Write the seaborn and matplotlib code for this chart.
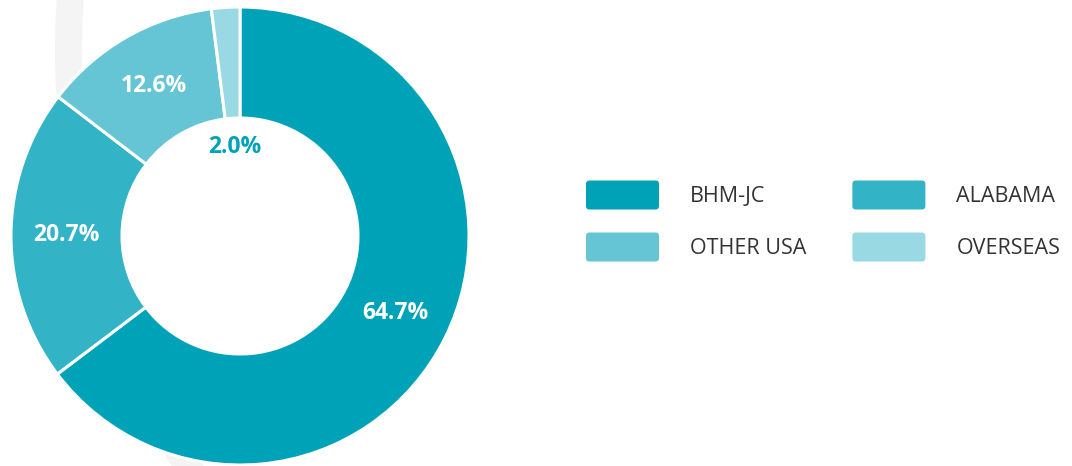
import matplotlib
matplotlib.use("Agg")
import matplotlib.pyplot as plt
import seaborn as sns
import numpy as np
from matplotlib.patches import Wedge, FancyBboxPatch
from matplotlib.legend_handler import HandlerPatch

categories = ["BHM-JC", "ALABAMA", "OTHER USA", "OVERSEAS"]
values = [64.7, 20.7, 12.6, 2.0]
colors = ["#00a2b8", "#33b3c6", "#66c5d4", "#99d9e3"]
# legend fills column by column: row 1 = BHM-JC, ALABAMA; row 2 = OTHER USA, OVERSEAS
legend_order = ["BHM-JC", "OTHER USA", "ALABAMA", "OVERSEAS"]

sns.set_theme(style="white")
plt.rcParams["font.family"] = ["Open Sans", "DejaVu Sans"]

W, H = 1072, 466
fig = plt.figure(figsize=(W / 100, H / 100), dpi=100)
fig.patch.set_facecolor("white")

# faint decorative background ring
bg = fig.add_axes([0, 0, 1, 1])
bg.set_xlim(0, W)
bg.set_ylim(H, 0)
bg.axis("off")
bg.add_patch(Wedge((855, 50), 800, 0, 360, width=27, facecolor="#f4f4f4", edgecolor="none"))

cx, cy, R = 240, 236, 229
ax = fig.add_axes([(cx - R) / W, (H - cy - R) / H, 2 * R / W, 2 * R / H])
ax.set_facecolor("none")
inner = 118 / R
pctd = (1 + inner) / 2
wedges, texts, autotexts = ax.pie(
    values, colors=colors, startangle=90, counterclock=False,
    radius=1.0, wedgeprops=dict(width=1 - inner, edgecolor="white", linewidth=2.2),
    autopct="%.1f%%", pctdistance=pctd,
    textprops=dict(color="white", fontsize=16.5, fontweight="bold"),
)
ax.set_xlim(-1, 1)
ax.set_ylim(-1, 1)
ax.set_aspect("equal")
ax.axis("off")

# small slice label inside the hole
small = autotexts[-1]
x, y = small.get_position()
scale = 0.39 / pctd
small.set_position((x * scale, y * scale))
small.set_color(colors[0])


class RoundHandler(HandlerPatch):
    def create_artists(self, legend, orig_handle, xdescent, ydescent, width, height, fontsize, trans):
        p = FancyBboxPatch((-xdescent, -ydescent), width, height,
                           boxstyle="round,pad=0,rounding_size=2.5",
                           facecolor=orig_handle.get_facecolor(), edgecolor="none",
                           transform=trans)
        return [p]


handles = [wedges[categories.index(c)] for c in legend_order]
fs = 15.5
fs_pt = fs
target_h_pt = 29 * 72 / 100
hh = (target_h_pt / fs_pt - 0.245) / 0.65
fs_px = fs * 100 / 72
leg = fig.legend(
    handles, legend_order, ncol=2, loc="center left",
    bbox_to_anchor=(586 / W, 1 - 221 / H), frameon=False, fontsize=fs,
    handlelength=73 / fs_px, handleheight=hh, handletextpad=31 / fs_px,
    columnspacing=46 / fs_px, labelspacing=23 / fs_px, borderpad=0, borderaxespad=0,
    handler_map={type(wedges[0]): RoundHandler()},
)
for t in leg.get_texts():
    t.set_color("#333333")

fig.savefig("out.png", dpi=100, facecolor="white")
